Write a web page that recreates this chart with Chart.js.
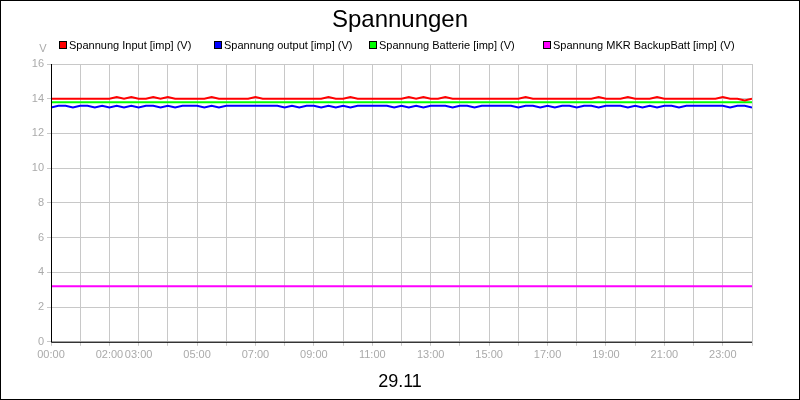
<!DOCTYPE html>
<html><head><meta charset="utf-8">
<script src="https://cdn.jsdelivr.net/npm/chart.js@4"></script>
<style>html,body{margin:0;padding:0;background:#fff}#w{position:relative;width:798px;height:398px;border:1px solid #000}</style>
</head><body><div id="w"><canvas id="c" width="798" height="398"></canvas></div>
<script>
const hourLabels = ['00:00','','02:00','03:00','','05:00','','07:00','','09:00','','11:00','','13:00','','15:00','','17:00','','19:00','','21:00','','23:00',''];
const seriesNames = ['Spannung Input [imp] (V)','Spannung output [imp] (V)','Spannung Batterie [imp] (V)','Spannung MKR BackupBatt [imp] (V)'];
const seriesColors = ['#ff0000','#0000ff','#00ff00','#ff00ff'];
const inputV = [14.0,14.0,14.0,14.0,14.0,14.0,14.0,14.0,14.0,14.1,14.0,14.1,14.0,14.0,14.1,14.0,14.1,14.0,14.0,14.0,14.0,14.0,14.1,14.0,14.0,14.0,14.0,14.0,14.1,14.0,14.0,14.0,14.0,14.0,14.0,14.0,14.0,14.0,14.1,14.0,14.0,14.1,14.0,14.0,14.0,14.0,14.0,14.0,14.0,14.1,14.0,14.1,14.0,14.0,14.1,14.0,14.0,14.0,14.0,14.0,14.0,14.0,14.0,14.0,14.0,14.1,14.0,14.0,14.0,14.0,14.0,14.0,14.0,14.0,14.0,14.1,14.0,14.0,14.0,14.1,14.0,14.0,14.0,14.1,14.0,14.0,14.0,14.0,14.0,14.0,14.0,14.0,14.1,14.0,14.0,13.9,14.0];
const outputV = [13.5,13.6,13.6,13.5,13.6,13.6,13.5,13.6,13.5,13.6,13.5,13.6,13.5,13.6,13.6,13.5,13.6,13.5,13.6,13.6,13.6,13.5,13.6,13.5,13.6,13.6,13.6,13.6,13.6,13.6,13.6,13.6,13.5,13.6,13.5,13.6,13.6,13.5,13.6,13.5,13.6,13.5,13.6,13.6,13.6,13.6,13.6,13.5,13.6,13.5,13.6,13.5,13.6,13.6,13.6,13.5,13.6,13.6,13.5,13.6,13.6,13.6,13.6,13.6,13.5,13.6,13.6,13.5,13.6,13.5,13.6,13.6,13.5,13.6,13.6,13.5,13.6,13.6,13.6,13.5,13.6,13.5,13.6,13.5,13.6,13.6,13.5,13.6,13.6,13.6,13.6,13.6,13.6,13.5,13.6,13.6,13.5];
const batteryV = [13.8,13.8,13.8,13.8,13.8,13.8,13.8,13.8,13.8,13.8,13.8,13.8,13.8,13.8,13.8,13.8,13.8,13.8,13.8,13.8,13.8,13.8,13.8,13.8,13.8,13.8,13.8,13.8,13.8,13.8,13.8,13.8,13.8,13.8,13.8,13.8,13.8,13.8,13.8,13.8,13.8,13.8,13.8,13.8,13.8,13.8,13.8,13.8,13.8,13.8,13.8,13.8,13.8,13.8,13.8,13.8,13.8,13.8,13.8,13.8,13.8,13.8,13.8,13.8,13.8,13.8,13.8,13.8,13.8,13.8,13.8,13.8,13.8,13.8,13.8,13.8,13.8,13.8,13.8,13.8,13.8,13.8,13.8,13.8,13.8,13.8,13.8,13.8,13.8,13.8,13.8,13.8,13.8,13.8,13.8,13.8,13.8];
const backupV = [3.2,3.2,3.2,3.2,3.2,3.2,3.2,3.2,3.2,3.2,3.2,3.2,3.2,3.2,3.2,3.2,3.2,3.2,3.2,3.2,3.2,3.2,3.2,3.2,3.2,3.2,3.2,3.2,3.2,3.2,3.2,3.2,3.2,3.2,3.2,3.2,3.2,3.2,3.2,3.2,3.2,3.2,3.2,3.2,3.2,3.2,3.2,3.2,3.2,3.2,3.2,3.2,3.2,3.2,3.2,3.2,3.2,3.2,3.2,3.2,3.2,3.2,3.2,3.2,3.2,3.2,3.2,3.2,3.2,3.2,3.2,3.2,3.2,3.2,3.2,3.2,3.2,3.2,3.2,3.2,3.2,3.2,3.2,3.2,3.2,3.2,3.2,3.2,3.2,3.2,3.2,3.2,3.2,3.2,3.2,3.2,3.2];
const allSeries=[inputV,outputV,batteryV,backupV];
const toPts=a=>a.map((v,i)=>({x:i/4,y:v}));
const deco={id:'deco',afterDraw(ch){const c=ch.ctx;c.save();c.fillStyle='#000';c.textAlign='center';
 c.font='24px "Liberation Sans",Arial';c.fillText('Spannungen',399,26);
 c.font='18px "Liberation Sans",Arial';c.fillText('29.11',399,386);
 c.fillStyle='#aaa';c.font='11px "Liberation Sans",Arial';c.fillText('V',42,51);
 // legend
 const xs=[58,213,368,542];c.font='11px "Liberation Sans",Arial';c.textAlign='left';
 seriesNames.forEach((n,i)=>{c.fillStyle=seriesColors[i];c.fillRect(xs[i],40,7,7);c.strokeStyle='#000';c.lineWidth=1;c.strokeRect(xs[i]+.5,40.5,7,7);c.fillStyle='#000';c.fillText(n,xs[i]+10,48);});
 const a=ch.chartArea;c.strokeStyle='#000';c.lineWidth=1;c.beginPath();c.moveTo(a.left+.5,a.top);c.lineTo(a.left+.5,a.bottom+.5);c.lineTo(a.right,a.bottom+.5);c.stroke();c.restore();}};
new Chart(document.getElementById('c'),{type:'line',
 data:{datasets:allSeries.map((a,i)=>({label:seriesNames[i],data:toPts(a),borderColor:seriesColors[i],borderWidth:2,pointRadius:0,tension:0}))},
 options:{responsive:false,animation:false,layout:{padding:{top:63,left:0,right:47,bottom:34}},
  plugins:{legend:{display:false},tooltip:{enabled:false}},
  scales:{x:{type:'linear',min:0,max:24,border:{display:false},grid:{color:'#c8c8c8',drawTicks:true,tickLength:4},
    ticks:{stepSize:1,autoSkip:false,maxRotation:0,color:'#aaa',font:{size:11,family:'Liberation Sans'},callback:v=>hourLabels[v]}},
   y:{min:0,max:16,border:{display:false},grid:{color:'#c8c8c8',tickLength:4},afterFit:s=>{s.width=50},
    ticks:{stepSize:2,color:'#aaa',font:{size:11,family:'Liberation Sans'}}}}},
 plugins:[deco]});
</script></body></html>
